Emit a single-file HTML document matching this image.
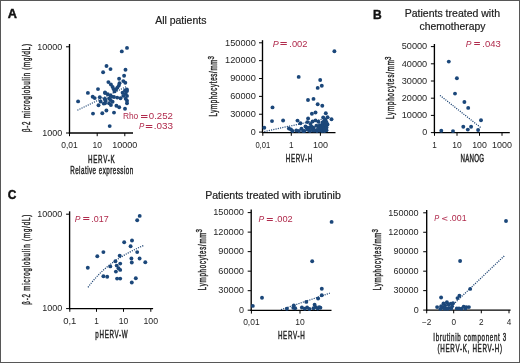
<!DOCTYPE html>
<html><head><meta charset="utf-8"><title>Figure</title>
<style>html,body{margin:0;padding:0;background:#fff;}body{width:520px;height:363px;overflow:hidden;font-family:"Liberation Sans",sans-serif;}svg{display:block;will-change:transform;}</style>
</head><body>
<svg width="520" height="363" viewBox="0 0 520 363" font-family="Liberation Sans, sans-serif"><rect x="0.5" y="0.5" width="519" height="362" fill="#fff" stroke="#575757" stroke-width="1"/>
<text x="7.8" y="18.4" font-size="13" textLength="9.2" lengthAdjust="spacingAndGlyphs" font-weight="bold" fill="#111" stroke="#111" stroke-width="0.45">A</text>
<text x="373.0" y="19.1" font-size="13" textLength="8.7" lengthAdjust="spacingAndGlyphs" font-weight="bold" fill="#111" stroke="#111" stroke-width="0.45">B</text>
<text x="7.8" y="198.6" font-size="13" textLength="8.6" lengthAdjust="spacingAndGlyphs" font-weight="bold" fill="#111" stroke="#111" stroke-width="0.45">C</text>
<text x="155.2" y="23.6" font-size="10.6" textLength="51.2" lengthAdjust="spacingAndGlyphs" fill="#222" stroke="#222" stroke-width="0.2">All patients</text>
<text x="404.7" y="16.9" font-size="10.4" textLength="95.3" lengthAdjust="spacingAndGlyphs" fill="#222" stroke="#222" stroke-width="0.2">Patients treated with</text>
<text x="419.6" y="30.0" font-size="10.4" textLength="65.8" lengthAdjust="spacingAndGlyphs" fill="#222" stroke="#222" stroke-width="0.2">chemotherapy</text>
<text x="205.2" y="199.4" font-size="10.4" textLength="135.6" lengthAdjust="spacingAndGlyphs" fill="#222" stroke="#222" stroke-width="0.2">Patients treated with ibrutinib</text>
<line x1="69.5" y1="44" x2="69.5" y2="133.6" stroke="#000" stroke-width="1.35"/>
<line x1="66.0" y1="46.8" x2="69.5" y2="46.8" stroke="#000" stroke-width="1.0"/>
<text x="62.2" y="49.5" font-size="8.2" text-anchor="end" textLength="25" lengthAdjust="spacingAndGlyphs" fill="#262626">10000</text>
<line x1="66.0" y1="133" x2="69.5" y2="133" stroke="#000" stroke-width="1.0"/>
<text x="62.2" y="135.7" font-size="8.2" text-anchor="end" textLength="20" lengthAdjust="spacingAndGlyphs" fill="#262626">1000</text>
<line x1="68.9" y1="133" x2="133" y2="133" stroke="#000" stroke-width="1.35"/>
<line x1="69.5" y1="133" x2="69.5" y2="136.2" stroke="#000" stroke-width="1.0"/>
<text x="69.5" y="147.5" font-size="8.2" text-anchor="middle" textLength="16.5" lengthAdjust="spacingAndGlyphs" fill="#262626">0,01</text>
<line x1="97.2" y1="133" x2="97.2" y2="136.2" stroke="#000" stroke-width="1.0"/>
<text x="97.2" y="147.5" font-size="8.2" text-anchor="middle" textLength="9.5" lengthAdjust="spacingAndGlyphs" fill="#262626">10</text>
<line x1="124.8" y1="133" x2="124.8" y2="136.2" stroke="#000" stroke-width="1.0"/>
<text x="124.8" y="147.5" font-size="8.2" text-anchor="middle" textLength="25" lengthAdjust="spacingAndGlyphs" fill="#262626">10000</text>
<text transform="translate(87.90,162.60) scale(0.600,1)" font-size="10.4" textLength="44.67" lengthAdjust="spacing" fill="#262626" stroke="#262626" stroke-width="0.45">HERV-K</text>
<text transform="translate(70.20,174.30) scale(0.600,1)" font-size="10.4" textLength="105.00" lengthAdjust="spacing" fill="#262626" stroke="#262626" stroke-width="0.45">Relative expression</text>
<text transform="translate(29.70,132.00) rotate(-90) scale(0.600,1)" font-size="10.2" textLength="146.67" lengthAdjust="spacing" fill="#262626" stroke="#262626" stroke-width="0.45">β-2 microglobulin (mg/dL)</text>
<text x="122.9" y="118.8" font-size="8.4" fill="#b02a4c" textLength="15.40" lengthAdjust="spacingAndGlyphs">Rho</text>
<rect x="141" y="115" width="6.50" height="1" fill="#b02a4c"/>
<rect x="141" y="117" width="6.50" height="1" fill="#b02a4c"/>
<text x="148.8" y="118.8" font-size="8.4" fill="#b02a4c" textLength="24.20" lengthAdjust="spacingAndGlyphs">0.252</text>
<text x="138.89999999999998" y="129.2" font-size="8.4" font-style="italic" fill="#b02a4c" textLength="5.30" lengthAdjust="spacingAndGlyphs">P</text>
<rect x="145.8" y="125" width="6.50" height="1" fill="#b02a4c"/>
<rect x="145.8" y="127" width="6.50" height="1" fill="#b02a4c"/>
<text x="153.7" y="129.2" font-size="8.4" fill="#b02a4c" textLength="19.30" lengthAdjust="spacingAndGlyphs">.033</text>
<line x1="77.4" y1="110.2" x2="127" y2="86.3" stroke="#1a4272" stroke-width="1.25" stroke-dasharray="1.1 1.2"/>
<g fill="#1b477a">
<circle cx="127.0" cy="47.9" r="1.95"/>
<circle cx="121.8" cy="51.4" r="1.95"/>
<circle cx="106.5" cy="66.0" r="1.95"/>
<circle cx="110.5" cy="69.1" r="1.95"/>
<circle cx="103.1" cy="72.2" r="1.95"/>
<circle cx="125.5" cy="69.8" r="1.95"/>
<circle cx="124.1" cy="75.8" r="1.95"/>
<circle cx="119.1" cy="78.7" r="1.95"/>
<circle cx="123.3" cy="81.1" r="1.95"/>
<circle cx="125.3" cy="82.8" r="1.95"/>
<circle cx="108.4" cy="82.1" r="1.95"/>
<circle cx="110.9" cy="84.5" r="1.95"/>
<circle cx="112.6" cy="87.0" r="1.95"/>
<circle cx="113.8" cy="89.2" r="1.95"/>
<circle cx="119.5" cy="83.2" r="1.95"/>
<circle cx="118.8" cy="85.6" r="1.95"/>
<circle cx="117.4" cy="87.6" r="1.95"/>
<circle cx="116.0" cy="89.4" r="1.95"/>
<circle cx="114.6" cy="91.4" r="1.95"/>
<circle cx="125.0" cy="90.4" r="1.95"/>
<circle cx="127.0" cy="91.1" r="1.95"/>
<circle cx="122.6" cy="92.8" r="1.95"/>
<circle cx="125.7" cy="93.8" r="1.95"/>
<circle cx="123.3" cy="95.9" r="1.95"/>
<circle cx="127.0" cy="95.9" r="1.95"/>
<circle cx="125.7" cy="98.7" r="1.95"/>
<circle cx="127.0" cy="100.7" r="1.95"/>
<circle cx="126.9" cy="89.4" r="1.95"/>
<circle cx="105.0" cy="92.5" r="1.95"/>
<circle cx="107.8" cy="94.2" r="1.95"/>
<circle cx="110.5" cy="95.5" r="1.95"/>
<circle cx="111.9" cy="96.6" r="1.95"/>
<circle cx="114.0" cy="97.0" r="1.95"/>
<circle cx="117.2" cy="97.6" r="1.95"/>
<circle cx="120.5" cy="98.2" r="1.95"/>
<circle cx="109.1" cy="98.5" r="1.95"/>
<circle cx="110.5" cy="100.0" r="1.95"/>
<circle cx="112.6" cy="101.8" r="1.95"/>
<circle cx="105.0" cy="98.9" r="1.95"/>
<circle cx="105.7" cy="100.9" r="1.95"/>
<circle cx="127.0" cy="103.3" r="1.95"/>
<circle cx="109.1" cy="103.3" r="1.95"/>
<circle cx="110.9" cy="105.0" r="1.95"/>
<circle cx="105.0" cy="103.3" r="1.95"/>
<circle cx="116.4" cy="105.8" r="1.95"/>
<circle cx="119.2" cy="107.2" r="1.95"/>
<circle cx="125.0" cy="108.8" r="1.95"/>
<circle cx="106.4" cy="110.5" r="1.95"/>
<circle cx="114.0" cy="112.6" r="1.95"/>
<circle cx="98.0" cy="89.1" r="1.95"/>
<circle cx="87.9" cy="92.9" r="1.95"/>
<circle cx="92.7" cy="96.7" r="1.95"/>
<circle cx="94.7" cy="98.1" r="1.95"/>
<circle cx="99.8" cy="97.3" r="1.95"/>
<circle cx="105.1" cy="93.1" r="1.95"/>
<circle cx="104.7" cy="99.1" r="1.95"/>
<circle cx="100.6" cy="101.5" r="1.95"/>
<circle cx="103.7" cy="103.6" r="1.95"/>
<circle cx="98.5" cy="105.3" r="1.95"/>
<circle cx="78.1" cy="101.4" r="1.95"/>
<circle cx="102.3" cy="113.3" r="1.95"/>
<circle cx="93.0" cy="113.6" r="1.95"/>
<circle cx="109.7" cy="126.1" r="1.95"/>
</g>
<line x1="262.5" y1="40.2" x2="262.5" y2="133.1" stroke="#000" stroke-width="1.35"/>
<line x1="259.0" y1="42.8" x2="262.5" y2="42.8" stroke="#000" stroke-width="1.0"/>
<text x="255.8" y="45.5" font-size="8.2" text-anchor="end" textLength="30.8" lengthAdjust="spacingAndGlyphs" fill="#262626">150000</text>
<line x1="259.0" y1="60.66" x2="262.5" y2="60.66" stroke="#000" stroke-width="1.0"/>
<text x="255.8" y="63.36" font-size="8.2" text-anchor="end" textLength="30.8" lengthAdjust="spacingAndGlyphs" fill="#262626">120000</text>
<line x1="259.0" y1="78.52" x2="262.5" y2="78.52" stroke="#000" stroke-width="1.0"/>
<text x="255.8" y="81.22" font-size="8.2" text-anchor="end" textLength="25.6" lengthAdjust="spacingAndGlyphs" fill="#262626">90000</text>
<line x1="259.0" y1="96.38" x2="262.5" y2="96.38" stroke="#000" stroke-width="1.0"/>
<text x="255.8" y="99.08" font-size="8.2" text-anchor="end" textLength="25.6" lengthAdjust="spacingAndGlyphs" fill="#262626">60000</text>
<line x1="259.0" y1="114.24" x2="262.5" y2="114.24" stroke="#000" stroke-width="1.0"/>
<text x="255.8" y="116.94" font-size="8.2" text-anchor="end" textLength="25.6" lengthAdjust="spacingAndGlyphs" fill="#262626">30000</text>
<line x1="259.0" y1="132.1" x2="262.5" y2="132.1" stroke="#000" stroke-width="1.0"/>
<text x="255.8" y="134.79999999999998" font-size="8.2" text-anchor="end" textLength="5" lengthAdjust="spacingAndGlyphs" fill="#262626">0</text>
<line x1="261.9" y1="132.6" x2="335.5" y2="132.6" stroke="#000" stroke-width="1.35"/>
<line x1="262.8" y1="132.6" x2="262.8" y2="135.79999999999998" stroke="#000" stroke-width="1.0"/>
<text x="262.8" y="147.6" font-size="8.2" text-anchor="middle" textLength="14.8" lengthAdjust="spacingAndGlyphs" fill="#262626">0,01</text>
<line x1="291.3" y1="132.6" x2="291.3" y2="135.79999999999998" stroke="#000" stroke-width="1.0"/>
<text x="291.3" y="147.6" font-size="8.2" text-anchor="middle" fill="#262626">1</text>
<line x1="320.4" y1="132.6" x2="320.4" y2="135.79999999999998" stroke="#000" stroke-width="1.0"/>
<text x="320.4" y="147.6" font-size="8.2" text-anchor="middle" textLength="15" lengthAdjust="spacingAndGlyphs" fill="#262626">100</text>
<text transform="translate(285.85,162.40) scale(0.600,1)" font-size="10.4" textLength="43.83" lengthAdjust="spacing" fill="#262626" stroke="#262626" stroke-width="0.45">HERV-H</text>
<text transform="translate(217.40,116.60) rotate(-90) scale(0.600,1)" font-size="10.2" textLength="95.00" lengthAdjust="spacing" fill="#262626" stroke="#262626" stroke-width="0.45">Lymphocytes/mm</text>
<text transform="translate(214.1,59.6) rotate(-90)" font-size="8.2" textLength="3.4" lengthAdjust="spacingAndGlyphs" fill="#262626" stroke="#262626" stroke-width="0.4">3</text>
<text x="272.8" y="46.5" font-size="8.4" font-style="italic" fill="#b02a4c" textLength="6.00" lengthAdjust="spacingAndGlyphs">P</text>
<rect x="280.4" y="42" width="6.40" height="1" fill="#b02a4c"/>
<rect x="280.4" y="44" width="6.40" height="1" fill="#b02a4c"/>
<text x="289.3" y="46.5" font-size="8.4" fill="#b02a4c" textLength="18.20" lengthAdjust="spacingAndGlyphs">.002</text>
<line x1="264.3" y1="131.5" x2="330" y2="117.5" stroke="#1a4272" stroke-width="1.25" stroke-dasharray="1.1 1.2"/>
<g fill="#1b477a">
<circle cx="334.4" cy="51.2" r="1.95"/>
<circle cx="298.7" cy="76.9" r="1.95"/>
<circle cx="320.2" cy="80.0" r="1.95"/>
<circle cx="321.8" cy="85.8" r="1.95"/>
<circle cx="317.7" cy="87.9" r="1.95"/>
<circle cx="308.0" cy="100.0" r="1.95"/>
<circle cx="313.5" cy="98.9" r="1.95"/>
<circle cx="317.7" cy="104.2" r="1.95"/>
<circle cx="322.3" cy="105.7" r="1.95"/>
<circle cx="272.5" cy="107.4" r="1.95"/>
<circle cx="272.0" cy="121.1" r="1.95"/>
<circle cx="283.1" cy="120.5" r="1.95"/>
<circle cx="264.3" cy="127.7" r="1.95"/>
<circle cx="311.9" cy="113.7" r="1.95"/>
<circle cx="315.5" cy="112.5" r="1.95"/>
<circle cx="325.8" cy="113.2" r="1.95"/>
<circle cx="331.5" cy="119.2" r="1.95"/>
<circle cx="327.5" cy="117.3" r="1.95"/>
<circle cx="323.2" cy="117.5" r="1.95"/>
<circle cx="308.1" cy="118.5" r="1.95"/>
<circle cx="307.3" cy="122.1" r="1.95"/>
<circle cx="297.5" cy="120.6" r="1.95"/>
<circle cx="300.4" cy="123.3" r="1.95"/>
<circle cx="312.6" cy="121.5" r="1.95"/>
<circle cx="315.5" cy="120.4" r="1.95"/>
<circle cx="318.4" cy="121.8" r="1.95"/>
<circle cx="323.7" cy="121.8" r="1.95"/>
<circle cx="325.6" cy="120.4" r="1.95"/>
<circle cx="311.6" cy="126.6" r="1.95"/>
<circle cx="316.4" cy="125.7" r="1.95"/>
<circle cx="319.8" cy="125.2" r="1.95"/>
<circle cx="322.7" cy="124.7" r="1.95"/>
<circle cx="324.6" cy="127.1" r="1.95"/>
<circle cx="291.0" cy="129.5" r="1.95"/>
<circle cx="296.3" cy="130.5" r="1.95"/>
<circle cx="301.5" cy="128.6" r="1.95"/>
<circle cx="304.4" cy="131.0" r="1.95"/>
<circle cx="308.8" cy="130.0" r="1.95"/>
<circle cx="313.1" cy="130.5" r="1.95"/>
<circle cx="316.9" cy="130.0" r="1.95"/>
<circle cx="320.8" cy="129.5" r="1.95"/>
<circle cx="323.7" cy="130.0" r="1.95"/>
<circle cx="309.2" cy="127.6" r="1.95"/>
<circle cx="318.8" cy="127.6" r="1.95"/>
<circle cx="321.7" cy="128.1" r="1.95"/>
<circle cx="288.9" cy="128.5" r="1.95"/>
<circle cx="306.5" cy="127.5" r="1.95"/>
<circle cx="313.5" cy="127.8" r="1.95"/>
<circle cx="326.5" cy="130.2" r="1.95"/>
<circle cx="327.5" cy="124.5" r="1.95"/>
<circle cx="310.5" cy="124.0" r="1.95"/>
<circle cx="305.5" cy="126.5" r="1.95"/>
<circle cx="307.5" cy="129.5" r="1.95"/>
<circle cx="310" cy="131" r="1.95"/>
<circle cx="312" cy="128.5" r="1.95"/>
<circle cx="314.5" cy="130.5" r="1.95"/>
<circle cx="317" cy="131" r="1.95"/>
<circle cx="319.5" cy="130.5" r="1.95"/>
<circle cx="322" cy="131" r="1.95"/>
<circle cx="324.5" cy="131" r="1.95"/>
<circle cx="321" cy="127.5" r="1.95"/>
<circle cx="323.5" cy="126" r="1.95"/>
<circle cx="325.5" cy="124.5" r="1.95"/>
<circle cx="322.5" cy="122.5" r="1.95"/>
<circle cx="325" cy="120" r="1.95"/>
<circle cx="326.5" cy="122.5" r="1.95"/>
<circle cx="324" cy="128.5" r="1.95"/>
<circle cx="326.5" cy="127.5" r="1.95"/>
<circle cx="303" cy="131" r="1.95"/>
<circle cx="299" cy="131" r="1.95"/>
<circle cx="292.5" cy="131" r="1.95"/>
</g>
<line x1="434.4" y1="44.0" x2="434.4" y2="133.2" stroke="#000" stroke-width="1.35"/>
<line x1="430.9" y1="46.6" x2="434.4" y2="46.6" stroke="#000" stroke-width="1.0"/>
<text x="427.2" y="49.300000000000004" font-size="8.2" text-anchor="end" textLength="25.5" lengthAdjust="spacingAndGlyphs" fill="#262626">50000</text>
<line x1="430.9" y1="63.8" x2="434.4" y2="63.8" stroke="#000" stroke-width="1.0"/>
<text x="427.2" y="66.5" font-size="8.2" text-anchor="end" textLength="25.5" lengthAdjust="spacingAndGlyphs" fill="#262626">40000</text>
<line x1="430.9" y1="81.0" x2="434.4" y2="81.0" stroke="#000" stroke-width="1.0"/>
<text x="427.2" y="83.7" font-size="8.2" text-anchor="end" textLength="25.5" lengthAdjust="spacingAndGlyphs" fill="#262626">30000</text>
<line x1="430.9" y1="98.19999999999999" x2="434.4" y2="98.19999999999999" stroke="#000" stroke-width="1.0"/>
<text x="427.2" y="100.89999999999999" font-size="8.2" text-anchor="end" textLength="25.5" lengthAdjust="spacingAndGlyphs" fill="#262626">20000</text>
<line x1="430.9" y1="115.4" x2="434.4" y2="115.4" stroke="#000" stroke-width="1.0"/>
<text x="427.2" y="118.10000000000001" font-size="8.2" text-anchor="end" textLength="25.5" lengthAdjust="spacingAndGlyphs" fill="#262626">10000</text>
<line x1="430.9" y1="132.6" x2="434.4" y2="132.6" stroke="#000" stroke-width="1.0"/>
<text x="427.2" y="135.29999999999998" font-size="8.2" text-anchor="end" textLength="5" lengthAdjust="spacingAndGlyphs" fill="#262626">0</text>
<line x1="433.79999999999995" y1="132.6" x2="509.8" y2="132.6" stroke="#000" stroke-width="1.35"/>
<line x1="434.5" y1="132.6" x2="434.5" y2="135.79999999999998" stroke="#000" stroke-width="1.0"/>
<text x="434.5" y="147.7" font-size="8.2" text-anchor="middle" fill="#262626">1</text>
<line x1="457" y1="132.6" x2="457" y2="135.79999999999998" stroke="#000" stroke-width="1.0"/>
<text x="457" y="147.7" font-size="8.2" text-anchor="middle" textLength="9.5" lengthAdjust="spacingAndGlyphs" fill="#262626">10</text>
<line x1="479.5" y1="132.6" x2="479.5" y2="135.79999999999998" stroke="#000" stroke-width="1.0"/>
<text x="479.5" y="147.7" font-size="8.2" text-anchor="middle" textLength="14.7" lengthAdjust="spacingAndGlyphs" fill="#262626">100</text>
<line x1="502" y1="132.6" x2="502" y2="135.79999999999998" stroke="#000" stroke-width="1.0"/>
<text x="502" y="147.7" font-size="8.2" text-anchor="middle" textLength="19.9" lengthAdjust="spacingAndGlyphs" fill="#262626">1000</text>
<text transform="translate(460.45,162.40) scale(0.591,1)" font-size="10.4" textLength="40.07" lengthAdjust="spacing" fill="#262626" stroke="#262626" stroke-width="0.45">NANOG</text>
<text transform="translate(394.00,118.90) rotate(-90) scale(0.600,1)" font-size="10.2" textLength="98.00" lengthAdjust="spacing" fill="#262626" stroke="#262626" stroke-width="0.45">Lymphocytes/mm</text>
<text transform="translate(390.7,60.1) rotate(-90)" font-size="8.2" textLength="3.4" lengthAdjust="spacingAndGlyphs" fill="#262626" stroke="#262626" stroke-width="0.4">3</text>
<text x="465.8" y="46.5" font-size="8.4" font-style="italic" fill="#b02a4c" textLength="5.70" lengthAdjust="spacingAndGlyphs">P</text>
<rect x="474.2" y="42" width="5.70" height="1" fill="#b02a4c"/>
<rect x="474.2" y="44" width="5.70" height="1" fill="#b02a4c"/>
<text x="482.3" y="46.5" font-size="8.4" fill="#b02a4c" textLength="18.40" lengthAdjust="spacingAndGlyphs">.043</text>
<line x1="440" y1="95.4" x2="481" y2="127.8" stroke="#1a4272" stroke-width="1.25" stroke-dasharray="1.1 1.2"/>
<g fill="#1b477a">
<circle cx="448.8" cy="61.6" r="1.95"/>
<circle cx="456.9" cy="78.2" r="1.95"/>
<circle cx="455.0" cy="93.6" r="1.95"/>
<circle cx="464.4" cy="102.0" r="1.95"/>
<circle cx="468.2" cy="107.9" r="1.95"/>
<circle cx="481.0" cy="120.3" r="1.95"/>
<circle cx="463.3" cy="126.7" r="1.95"/>
<circle cx="467.8" cy="129.6" r="1.95"/>
<circle cx="471.1" cy="126.7" r="1.95"/>
<circle cx="478.1" cy="130.0" r="1.95"/>
<circle cx="441.3" cy="130.7" r="1.95"/>
<circle cx="453.0" cy="131.1" r="1.95"/>
</g>
<line x1="69.6" y1="211.3" x2="69.6" y2="309.20000000000005" stroke="#000" stroke-width="1.35"/>
<line x1="66.1" y1="214.2" x2="69.6" y2="214.2" stroke="#000" stroke-width="1.0"/>
<text x="62.2" y="216.89999999999998" font-size="8.2" text-anchor="end" textLength="25" lengthAdjust="spacingAndGlyphs" fill="#262626">10000</text>
<line x1="66.1" y1="308.6" x2="69.6" y2="308.6" stroke="#000" stroke-width="1.0"/>
<text x="62.2" y="311.3" font-size="8.2" text-anchor="end" textLength="20" lengthAdjust="spacingAndGlyphs" fill="#262626">1000</text>
<line x1="69.0" y1="308.6" x2="153.1" y2="308.6" stroke="#000" stroke-width="1.35"/>
<line x1="69.8" y1="308.6" x2="69.8" y2="311.8" stroke="#000" stroke-width="1.0"/>
<text x="69.8" y="323.6" font-size="8.2" text-anchor="middle" textLength="13.2" lengthAdjust="spacingAndGlyphs" fill="#262626">0,1</text>
<line x1="96.5" y1="308.6" x2="96.5" y2="311.8" stroke="#000" stroke-width="1.0"/>
<text x="96.5" y="323.6" font-size="8.2" text-anchor="middle" fill="#262626">1</text>
<line x1="123.5" y1="308.6" x2="123.5" y2="311.8" stroke="#000" stroke-width="1.0"/>
<text x="123.5" y="323.6" font-size="8.2" text-anchor="middle" textLength="9.5" lengthAdjust="spacingAndGlyphs" fill="#262626">10</text>
<line x1="150.8" y1="308.6" x2="150.8" y2="311.8" stroke="#000" stroke-width="1.0"/>
<text x="150.8" y="323.6" font-size="8.2" text-anchor="middle" textLength="14.6" lengthAdjust="spacingAndGlyphs" fill="#262626">100</text>
<text transform="translate(95.35,337.80) scale(0.600,1)" font-size="10.4" textLength="53.83" lengthAdjust="spacing" fill="#262626" stroke="#262626" stroke-width="0.45">pHERV-W</text>
<text transform="translate(29.90,304.70) rotate(-90) scale(0.600,1)" font-size="10.2" textLength="150.00" lengthAdjust="spacing" fill="#262626" stroke="#262626" stroke-width="0.45">β-2 microglobulin (mg/dL)</text>
<text x="74.8" y="221.5" font-size="8.4" font-style="italic" fill="#b02a4c" textLength="5.70" lengthAdjust="spacingAndGlyphs">P</text>
<rect x="83.2" y="217" width="6.10" height="1" fill="#b02a4c"/>
<rect x="83.2" y="219" width="6.10" height="1" fill="#b02a4c"/>
<text x="91.3" y="221.5" font-size="8.4" fill="#b02a4c" textLength="17.40" lengthAdjust="spacingAndGlyphs">.017</text>
<path d="M88,287.3 C100,271 115,258 143.3,245.6" fill="none" stroke="#1a4272" stroke-width="1.25" stroke-dasharray="1.1 1.2"/>
<g fill="#1b477a">
<circle cx="139.7" cy="215.9" r="1.95"/>
<circle cx="137.2" cy="220.2" r="1.95"/>
<circle cx="124.2" cy="242.2" r="1.95"/>
<circle cx="132.0" cy="240.5" r="1.95"/>
<circle cx="130.6" cy="246.2" r="1.95"/>
<circle cx="103.4" cy="252.1" r="1.95"/>
<circle cx="97.3" cy="256.2" r="1.95"/>
<circle cx="137.2" cy="252.1" r="1.95"/>
<circle cx="119.7" cy="255.7" r="1.95"/>
<circle cx="131.4" cy="258.5" r="1.95"/>
<circle cx="139.6" cy="258.5" r="1.95"/>
<circle cx="145.3" cy="262.3" r="1.95"/>
<circle cx="131.8" cy="262.5" r="1.95"/>
<circle cx="115.4" cy="261.2" r="1.95"/>
<circle cx="120.2" cy="263.6" r="1.95"/>
<circle cx="87.8" cy="267.8" r="1.95"/>
<circle cx="110.3" cy="266.4" r="1.95"/>
<circle cx="116.7" cy="265.6" r="1.95"/>
<circle cx="118.5" cy="268.2" r="1.95"/>
<circle cx="120.2" cy="269.9" r="1.95"/>
<circle cx="115.9" cy="271.6" r="1.95"/>
<circle cx="103.4" cy="276.3" r="1.95"/>
<circle cx="107.2" cy="276.8" r="1.95"/>
<circle cx="117.1" cy="278.6" r="1.95"/>
<circle cx="120.2" cy="278.6" r="1.95"/>
<circle cx="135.8" cy="278.2" r="1.95"/>
<circle cx="131.8" cy="282.5" r="1.95"/>
</g>
<line x1="251.2" y1="209.6" x2="251.2" y2="311.0" stroke="#000" stroke-width="1.35"/>
<line x1="247.7" y1="212.6" x2="251.2" y2="212.6" stroke="#000" stroke-width="1.0"/>
<text x="243.9" y="215.29999999999998" font-size="8.2" text-anchor="end" textLength="30.7" lengthAdjust="spacingAndGlyphs" fill="#262626">150000</text>
<line x1="247.7" y1="232.12" x2="251.2" y2="232.12" stroke="#000" stroke-width="1.0"/>
<text x="243.9" y="234.82" font-size="8.2" text-anchor="end" textLength="30.7" lengthAdjust="spacingAndGlyphs" fill="#262626">120000</text>
<line x1="247.7" y1="251.64" x2="251.2" y2="251.64" stroke="#000" stroke-width="1.0"/>
<text x="243.9" y="254.33999999999997" font-size="8.2" text-anchor="end" textLength="25.6" lengthAdjust="spacingAndGlyphs" fill="#262626">90000</text>
<line x1="247.7" y1="271.15999999999997" x2="251.2" y2="271.15999999999997" stroke="#000" stroke-width="1.0"/>
<text x="243.9" y="273.85999999999996" font-size="8.2" text-anchor="end" textLength="25.6" lengthAdjust="spacingAndGlyphs" fill="#262626">60000</text>
<line x1="247.7" y1="290.68" x2="251.2" y2="290.68" stroke="#000" stroke-width="1.0"/>
<text x="243.9" y="293.38" font-size="8.2" text-anchor="end" textLength="25.6" lengthAdjust="spacingAndGlyphs" fill="#262626">30000</text>
<line x1="247.7" y1="310.2" x2="251.2" y2="310.2" stroke="#000" stroke-width="1.0"/>
<text x="243.9" y="312.9" font-size="8.2" text-anchor="end" textLength="5" lengthAdjust="spacingAndGlyphs" fill="#262626">0</text>
<line x1="250.6" y1="310.4" x2="331.5" y2="310.4" stroke="#000" stroke-width="1.35"/>
<line x1="251.4" y1="310.4" x2="251.4" y2="313.59999999999997" stroke="#000" stroke-width="1.0"/>
<text x="251.4" y="324.6" font-size="8.2" text-anchor="middle" textLength="16.5" lengthAdjust="spacingAndGlyphs" fill="#262626">0,01</text>
<line x1="300" y1="310.4" x2="300" y2="313.59999999999997" stroke="#000" stroke-width="1.0"/>
<text x="300" y="324.6" font-size="8.2" text-anchor="middle" textLength="9.5" lengthAdjust="spacingAndGlyphs" fill="#262626">10</text>
<text transform="translate(277.90,338.50) scale(0.600,1)" font-size="10.4" textLength="44.67" lengthAdjust="spacing" fill="#262626" stroke="#262626" stroke-width="0.45">HERV-H</text>
<text transform="translate(205.70,290.20) rotate(-90) scale(0.600,1)" font-size="10.2" textLength="96.00" lengthAdjust="spacing" fill="#262626" stroke="#262626" stroke-width="0.45">Lymphocytes/mm</text>
<text transform="translate(202.39999999999998,232.6) rotate(-90)" font-size="8.2" textLength="3.4" lengthAdjust="spacingAndGlyphs" fill="#262626" stroke="#262626" stroke-width="0.4">3</text>
<text x="258.4" y="221.6" font-size="8.4" font-style="italic" fill="#b02a4c" textLength="5.70" lengthAdjust="spacingAndGlyphs">P</text>
<rect x="266.8" y="218" width="6.00" height="1" fill="#b02a4c"/>
<rect x="266.8" y="220" width="6.00" height="1" fill="#b02a4c"/>
<text x="274.7" y="221.6" font-size="8.4" fill="#b02a4c" textLength="18.00" lengthAdjust="spacingAndGlyphs">.002</text>
<line x1="281" y1="309.6" x2="329.8" y2="293.2" stroke="#1a4272" stroke-width="1.25" stroke-dasharray="1.1 1.2"/>
<g fill="#1b477a">
<circle cx="331.6" cy="221.9" r="1.95"/>
<circle cx="312.2" cy="261.2" r="1.95"/>
<circle cx="252.8" cy="305.9" r="1.95"/>
<circle cx="262.0" cy="297.8" r="1.95"/>
<circle cx="321.8" cy="288.7" r="1.95"/>
<circle cx="321.8" cy="295.2" r="1.95"/>
<circle cx="318.1" cy="298.5" r="1.95"/>
<circle cx="306.3" cy="301.9" r="1.95"/>
<circle cx="293.8" cy="305.4" r="1.95"/>
<circle cx="293.3" cy="307.7" r="1.95"/>
<circle cx="286.9" cy="308.8" r="1.95"/>
<circle cx="301.9" cy="307.5" r="1.95"/>
<circle cx="307.1" cy="307.5" r="1.95"/>
<circle cx="304.8" cy="308.8" r="1.95"/>
<circle cx="309.4" cy="309.0" r="1.95"/>
<circle cx="314.6" cy="304.8" r="1.95"/>
<circle cx="315.8" cy="307.1" r="1.95"/>
<circle cx="313.5" cy="308.3" r="1.95"/>
<circle cx="319.2" cy="307.1" r="1.95"/>
<circle cx="320.4" cy="307.7" r="1.95"/>
<circle cx="295.2" cy="308.2" r="1.95"/>
<circle cx="317.7" cy="308.6" r="1.95"/>
</g>
<line x1="426.7" y1="210.0" x2="426.7" y2="310.70000000000005" stroke="#000" stroke-width="1.35"/>
<line x1="423.2" y1="212.8" x2="426.7" y2="212.8" stroke="#000" stroke-width="1.0"/>
<text x="418.7" y="215.5" font-size="8.2" text-anchor="end" textLength="30.4" lengthAdjust="spacingAndGlyphs" fill="#262626">150000</text>
<line x1="423.2" y1="232.26000000000002" x2="426.7" y2="232.26000000000002" stroke="#000" stroke-width="1.0"/>
<text x="418.7" y="234.96" font-size="8.2" text-anchor="end" textLength="30.4" lengthAdjust="spacingAndGlyphs" fill="#262626">120000</text>
<line x1="423.2" y1="251.72000000000003" x2="426.7" y2="251.72000000000003" stroke="#000" stroke-width="1.0"/>
<text x="418.7" y="254.42000000000002" font-size="8.2" text-anchor="end" textLength="25.3" lengthAdjust="spacingAndGlyphs" fill="#262626">90000</text>
<line x1="423.2" y1="271.18" x2="426.7" y2="271.18" stroke="#000" stroke-width="1.0"/>
<text x="418.7" y="273.88" font-size="8.2" text-anchor="end" textLength="25.3" lengthAdjust="spacingAndGlyphs" fill="#262626">60000</text>
<line x1="423.2" y1="290.64" x2="426.7" y2="290.64" stroke="#000" stroke-width="1.0"/>
<text x="418.7" y="293.34" font-size="8.2" text-anchor="end" textLength="25.3" lengthAdjust="spacingAndGlyphs" fill="#262626">30000</text>
<line x1="423.2" y1="310.1" x2="426.7" y2="310.1" stroke="#000" stroke-width="1.0"/>
<text x="418.7" y="312.8" font-size="8.2" text-anchor="end" textLength="5" lengthAdjust="spacingAndGlyphs" fill="#262626">0</text>
<line x1="426.09999999999997" y1="310.1" x2="510.6" y2="310.1" stroke="#000" stroke-width="1.35"/>
<line x1="426.7" y1="310.1" x2="426.7" y2="313.3" stroke="#000" stroke-width="1.0"/>
<text x="426.7" y="324.5" font-size="8.2" text-anchor="middle" fill="#262626">−2</text>
<line x1="453.7" y1="310.1" x2="453.7" y2="313.3" stroke="#000" stroke-width="1.0"/>
<text x="453.7" y="324.5" font-size="8.2" text-anchor="middle" fill="#262626">0</text>
<line x1="481.3" y1="310.1" x2="481.3" y2="313.3" stroke="#000" stroke-width="1.0"/>
<text x="481.3" y="324.5" font-size="8.2" text-anchor="middle" fill="#262626">2</text>
<line x1="509" y1="310.1" x2="509" y2="313.3" stroke="#000" stroke-width="1.0"/>
<text x="509" y="324.5" font-size="8.2" text-anchor="middle" fill="#262626">4</text>
<text transform="translate(433.30,341.00) scale(0.600,1)" font-size="10.4" textLength="121.67" lengthAdjust="spacing" fill="#262626" stroke="#262626" stroke-width="0.45">Ibrutinib component 3</text>
<text transform="translate(437.55,351.60) scale(0.600,1)" font-size="10.4" textLength="107.50" lengthAdjust="spacing" fill="#262626" stroke="#262626" stroke-width="0.45">(HERV-K, HERV-H)</text>
<text transform="translate(381.10,290.20) rotate(-90) scale(0.600,1)" font-size="10.2" textLength="96.00" lengthAdjust="spacing" fill="#262626" stroke="#262626" stroke-width="0.45">Lymphocytes/mm</text>
<text transform="translate(377.8,232.6) rotate(-90)" font-size="8.2" textLength="3.4" lengthAdjust="spacingAndGlyphs" fill="#262626" stroke="#262626" stroke-width="0.4">3</text>
<text x="434.3" y="221.4" font-size="8.4" font-style="italic" fill="#b02a4c" textLength="5.00" lengthAdjust="spacingAndGlyphs">P</text>
<path d="M447.4,216.89 L442.2,218.65 L447.4,220.41" fill="none" stroke="#b02a4c" stroke-width="0.8"/>
<text x="449.4" y="221.4" font-size="8.4" fill="#b02a4c" textLength="17.20" lengthAdjust="spacingAndGlyphs">.001</text>
<line x1="451.8" y1="305.9" x2="504.8" y2="255.4" stroke="#1a4272" stroke-width="1.25" stroke-dasharray="1.1 1.2"/>
<g fill="#1b477a">
<circle cx="506.0" cy="221.0" r="1.95"/>
<circle cx="460.1" cy="261.0" r="1.95"/>
<circle cx="470.2" cy="288.9" r="1.95"/>
<circle cx="459.4" cy="295.8" r="1.95"/>
<circle cx="457.5" cy="298.1" r="1.95"/>
<circle cx="441.1" cy="297.5" r="1.95"/>
<circle cx="437.1" cy="307.1" r="1.95"/>
<circle cx="441.2" cy="306.2" r="1.95"/>
<circle cx="443.0" cy="307.5" r="1.95"/>
<circle cx="445.1" cy="305.3" r="1.95"/>
<circle cx="446.9" cy="302.3" r="1.95"/>
<circle cx="448.6" cy="304.5" r="1.95"/>
<circle cx="450.8" cy="303.6" r="1.95"/>
<circle cx="452.1" cy="306.2" r="1.95"/>
<circle cx="449.0" cy="307.9" r="1.95"/>
<circle cx="446.4" cy="308.4" r="1.95"/>
<circle cx="456.8" cy="308.4" r="1.95"/>
<circle cx="459.0" cy="308.4" r="1.95"/>
<circle cx="463.7" cy="306.6" r="1.95"/>
<circle cx="466.3" cy="307.1" r="1.95"/>
<circle cx="468.9" cy="307.1" r="1.95"/>
<circle cx="444.5" cy="308.8" r="1.95"/>
<circle cx="447.6" cy="308.8" r="1.95"/>
<circle cx="451.2" cy="308.6" r="1.95"/>
<circle cx="453.0" cy="303.2" r="1.95"/>
<circle cx="440.3" cy="308.9" r="1.95"/>
<circle cx="443.5" cy="303.5" r="1.95"/>
<circle cx="465.4" cy="308.6" r="1.95"/>
<circle cx="461.5" cy="308.8" r="1.95"/>
</g></svg>
</body></html>
